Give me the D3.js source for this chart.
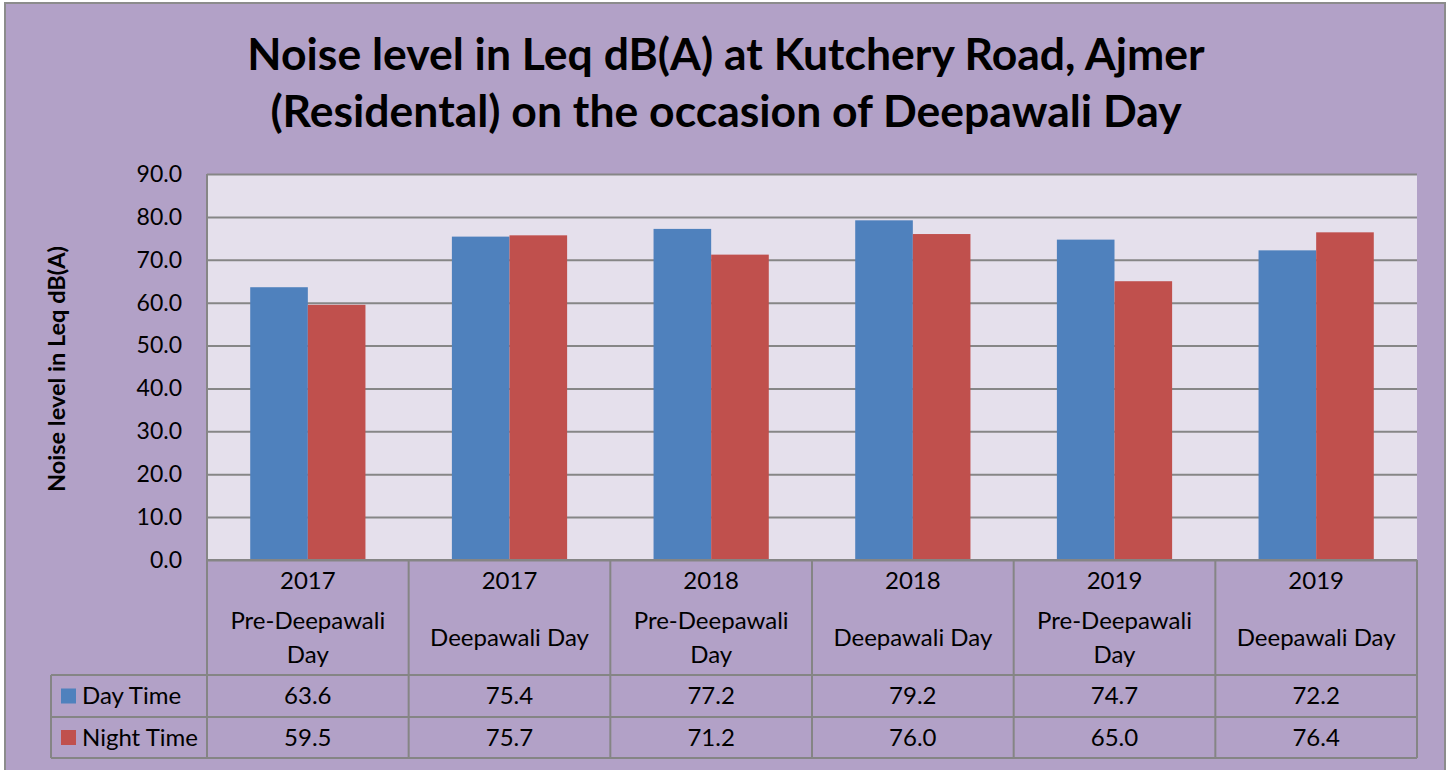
<!DOCTYPE html>
<html>
<head>
<meta charset="utf-8">
<script src="https://cdn.jsdelivr.net/npm/d3@7"></script>
<style>
  body { margin: 0; background: #fff; }
  svg { display: block; font-family: Lato, "Noto Sans", sans-serif; }
</style>
</head>
<body>
<svg width="1452" height="770"></svg>
<script>
const years = ['2017', '2017', '2018', '2018', '2019', '2019'];
const occasions = ['Pre-Deepawali Day', 'Deepawali Day', 'Pre-Deepawali Day', 'Deepawali Day', 'Pre-Deepawali Day', 'Deepawali Day'];
const dayTime = [63.6, 75.4, 77.2, 79.2, 74.7, 72.2];
const nightTime = [59.5, 75.7, 71.2, 76.0, 65.0, 76.4];
const seriesNames = ['Day Time', 'Night Time'];
const colors = ['#4F81BD', '#C0504D'];

const series = [dayTime, nightTime];
const cats = d3.range(years.length);

const plot = {left: 207, right: 1417, top: 174, bottom: 560};
const rowY = [560, 675, 717, 758];
const legendLeft = 51;
const fs = 24;

const svg = d3.select('svg');

// chart background
svg.append('rect')
    .attr('x', 5).attr('y', 3)
    .attr('width', 1440).attr('height', 780)
    .attr('fill', '#B2A1C7')
    .attr('stroke', '#8C8C8C')
    .attr('stroke-width', 2);

// title
svg.append('text')
    .attr('x', 726)
    .attr('text-anchor', 'middle')
    .attr('font-weight', 'bold')
    .attr('font-size', 44.5)
    .selectAll('tspan')
    .data(['Noise level in Leq dB(A) at Kutchery Road, Ajmer', '(Residental) on the occasion of Deepawali Day'])
    .enter().append('tspan')
    .attr('x', 726)
    .attr('y', function(d, i) { return 70 + i * 57; })
    .text(function(d) { return d; });

const x = d3.scaleBand()
    .domain(cats)
    .range([plot.left, plot.right])
    .paddingInner(0)
    .paddingOuter(0);

const y = d3.scaleLinear()
    .domain([0, 90])
    .range([plot.bottom, plot.top]);

const x1 = d3.scaleBand()
    .domain([0, 1])
    .range([0, x.bandwidth()])
    .paddingOuter(0.75);

svg.append('rect')
    .attr('x', plot.left).attr('y', plot.top)
    .attr('width', plot.right - plot.left)
    .attr('height', plot.bottom - plot.top)
    .attr('fill', '#E5E0EC');

// grid + y axis
const yAxis = svg.append('g')
    .attr('class', 'axis axis--y')
    .attr('transform', `translate(${plot.left}, 0)`)
    .call(d3.axisLeft(y)
        .tickValues(d3.range(0, 91, 10))
        .tickSize(-(plot.right - plot.left))
        .tickPadding(25)
        .tickFormat(d3.format('.1f')));
yAxis.select('.domain').remove();
yAxis.selectAll('.tick line')
    .attr('stroke', '#868686')
    .attr('stroke-width', 2);
yAxis.selectAll('.tick text')
    .attr('fill', '#000')
    .attr('font-size', 23)
    .attr('font-family', 'Lato, "Noto Sans", sans-serif');

svg.append('line')
    .attr('x1', plot.left).attr('x2', plot.left)
    .attr('y1', plot.top).attr('y2', plot.bottom)
    .attr('stroke', '#868686').attr('stroke-width', 2);

// bars
series.forEach(function(vals, s) {
    svg.append('g').selectAll('rect')
        .data(vals)
        .enter().append('rect')
        .attr('x', function(d, i) { return x(i) + x1(s); })
        .attr('y', function(d) { return y(d); })
        .attr('width', x1.bandwidth())
        .attr('height', function(d) { return y(0) - y(d); })
        .attr('fill', colors[s]);
});

// y axis title
svg.append('text')
    .attr('transform', `translate(65, ${(plot.top + plot.bottom) / 2 + 2}) rotate(-90)`)
    .attr('text-anchor', 'middle')
    .attr('font-weight', 'bold')
    .attr('font-size', 23.5)
    .text('Noise level in Leq dB(A)');

// data table
const table = svg.append('g').attr('class', 'table');
const gridColor = '#858585';

table.append('line')
    .attr('x1', plot.left).attr('x2', plot.right)
    .attr('y1', rowY[0]).attr('y2', rowY[0])
    .attr('stroke', gridColor).attr('stroke-width', 2);
rowY.slice(1).forEach(function(yy) {
    table.append('line')
        .attr('x1', legendLeft).attr('x2', plot.right)
        .attr('y1', yy).attr('y2', yy)
        .attr('stroke', gridColor).attr('stroke-width', 2);
});
table.append('line')
    .attr('x1', legendLeft).attr('x2', legendLeft)
    .attr('y1', rowY[1]).attr('y2', rowY[3])
    .attr('stroke', gridColor).attr('stroke-width', 2);
cats.concat([cats.length]).forEach(function(i) {
    const xx = i < cats.length ? x(i) : plot.right;
    table.append('line')
        .attr('x1', xx).attr('x2', xx)
        .attr('y1', rowY[0]).attr('y2', rowY[3])
        .attr('stroke', gridColor).attr('stroke-width', 2);
});

// category labels
cats.forEach(function(i) {
    const cx = x(i) + x.bandwidth() / 2;
    table.append('text')
        .attr('x', cx).attr('y', 589)
        .attr('text-anchor', 'middle')
        .attr('font-size', fs)
        .text(years[i]);
    const occ = occasions[i];
    if (occ.startsWith('Pre-')) {
        table.append('text')
            .attr('x', cx).attr('y', 629)
            .attr('text-anchor', 'middle')
            .attr('font-size', fs)
            .text('Pre-Deepawali');
        table.append('text')
            .attr('x', cx).attr('y', 663)
            .attr('text-anchor', 'middle')
            .attr('font-size', fs)
            .text('Day');
    } else {
        table.append('text')
            .attr('x', cx).attr('y', 646)
            .attr('text-anchor', 'middle')
            .attr('font-size', fs)
            .text(occ);
    }
});

// series rows
series.forEach(function(vals, s) {
    const mid = (rowY[s + 1] + rowY[s + 2]) / 2;
    table.append('rect')
        .attr('x', 61).attr('y', mid - 7.5)
        .attr('width', 15).attr('height', 15)
        .attr('fill', colors[s]);
    table.append('text')
        .attr('x', 82).attr('y', mid + 8)
        .attr('font-size', fs)
        .text(seriesNames[s]);
    table.selectAll(null)
        .data(vals)
        .enter().append('text')
        .attr('x', function(d, i) { return x(i) + x.bandwidth() / 2; })
        .attr('y', mid + 8)
        .attr('text-anchor', 'middle')
        .attr('font-size', fs)
        .text(function(d) { return d3.format('.1f')(d); });
});
</script>
</body>
</html>
